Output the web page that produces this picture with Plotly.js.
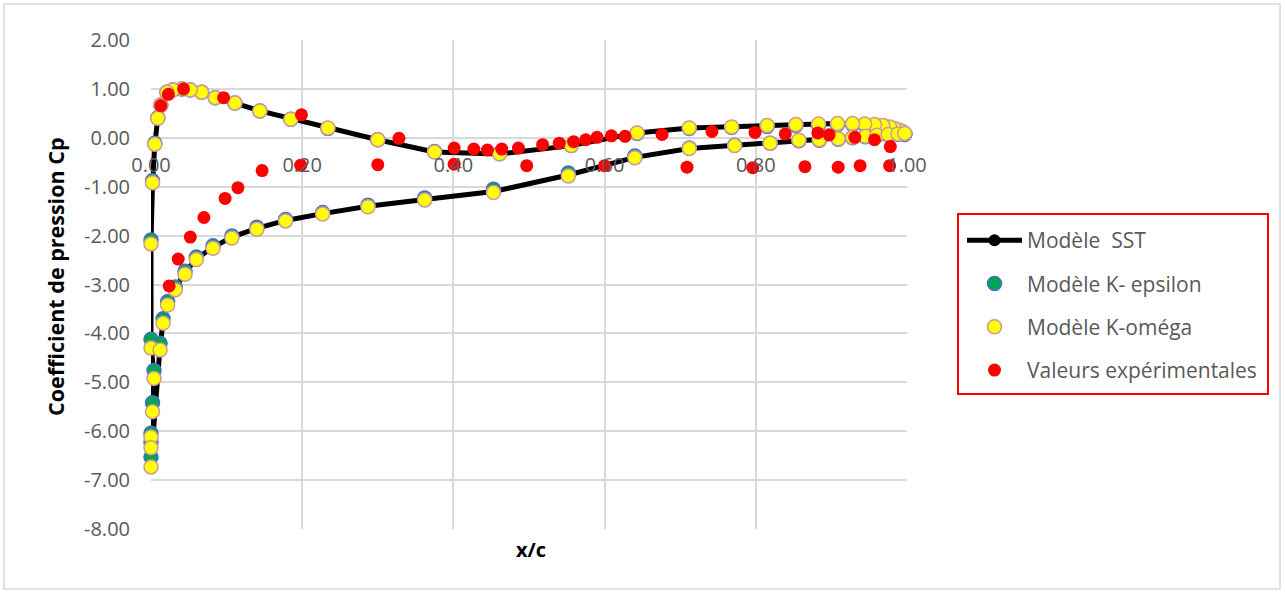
<!DOCTYPE html>
<html>
<head>
<meta charset="utf-8">
<script src="https://cdn.plot.ly/plotly-3.0.1.min.js"></script>
<style>html,body{margin:0;padding:0;background:#fff;}#chart{width:1285px;height:593px;}</style>
</head>
<body>
<div id="chart"></div>
<script>
// ---- Data ----
// Model curves: closed loop, from trailing edge along upper (Cp>0) branch to leading edge, then lower branch back.
var xModel = [0.997,0.994,0.989,0.983,0.977,0.968,0.957,0.944,0.928,0.908,0.883,0.853,0.815,0.768,0.712,0.643,0.556,0.461,0.375,0.300,0.234,0.185,0.144,0.111,0.085,0.067,0.052,0.041,0.029,0.021,0.013,0.009,0.005,0.002,0.000,0.000,0.004,0.002,0.000,0.000,0.000,
              0.012,0.016,0.022,0.032,0.045,0.060,0.082,0.107,0.140,0.178,0.227,0.287,0.362,0.453,0.552,0.640,0.712,0.772,0.819,0.857,0.884,0.909,0.928,0.945,0.960,0.975,0.988,0.997];
var cpSST = [0.09,0.13,0.16,0.19,0.22,0.25,0.27,0.28,0.29,0.29,0.28,0.27,0.25,0.22,0.20,0.10,-0.16,-0.33,-0.29,-0.04,0.20,0.38,0.55,0.71,0.82,0.93,0.98,1.00,0.98,0.93,0.67,0.40,-0.13,-0.92,-2.14,-4.25,-4.86,-5.52,-6.08,-6.30,-6.62,
             -4.28,-3.75,-3.39,-3.08,-2.76,-2.47,-2.24,-2.03,-1.85,-1.69,-1.55,-1.40,-1.26,-1.10,-0.76,-0.40,-0.22,-0.16,-0.11,-0.05,-0.04,-0.02,0.01,0.03,0.05,0.07,0.08,0.09];
var cpKEpsilon = [0.07,0.11,0.14,0.17,0.20,0.23,0.25,0.26,0.27,0.27,0.26,0.25,0.23,0.21,0.19,0.09,-0.16,-0.32,-0.28,-0.04,0.19,0.38,0.55,0.71,0.82,0.93,0.98,1.00,0.98,0.93,0.67,0.41,-0.11,-0.88,-2.09,-4.12,-4.76,-5.42,-6.04,-6.22,-6.53,
                  -4.20,-3.70,-3.35,-3.05,-2.73,-2.44,-2.21,-2.01,-1.83,-1.67,-1.53,-1.38,-1.23,-1.05,-0.72,-0.37,-0.21,-0.15,-0.11,-0.06,-0.05,-0.03,0.00,0.02,0.04,0.06,0.07,0.07];
var cpKOmega = [0.09,0.13,0.16,0.19,0.22,0.25,0.27,0.28,0.29,0.29,0.28,0.27,0.25,0.22,0.20,0.10,-0.16,-0.33,-0.29,-0.04,0.20,0.38,0.55,0.71,0.82,0.93,0.98,1.00,0.98,0.93,0.67,0.40,-0.13,-0.92,-2.17,-4.30,-4.92,-5.60,-6.12,-6.34,-6.73,
                -4.34,-3.79,-3.42,-3.11,-2.79,-2.49,-2.26,-2.05,-1.87,-1.70,-1.56,-1.41,-1.27,-1.12,-0.78,-0.41,-0.22,-0.16,-0.11,-0.05,-0.04,-0.02,0.01,0.03,0.05,0.07,0.08,0.09];
// Experimental values: upper and lower surfaces
var xExpUpper = [0.013,0.023,0.043,0.096,0.199,0.328,0.401,0.427,0.445,0.464,0.486,0.518,0.540,0.559,0.575,0.590,0.609,0.627,0.676,0.742,0.799,0.839,0.882,0.897,0.931,0.957,0.978];
var cpExpUpper = [0.66,0.89,1.00,0.82,0.47,-0.01,-0.21,-0.23,-0.25,-0.23,-0.21,-0.14,-0.11,-0.08,-0.04,0.01,0.04,0.03,0.07,0.13,0.11,0.08,0.10,0.06,0.01,-0.04,-0.18];
var xExpLower = [0.024,0.036,0.052,0.070,0.098,0.115,0.147,0.198,0.300,0.401,0.497,0.600,0.709,0.796,0.865,0.909,0.938,0.977];
var cpExpLower = [-3.03,-2.48,-2.03,-1.63,-1.24,-1.02,-0.67,-0.56,-0.55,-0.54,-0.57,-0.57,-0.60,-0.61,-0.59,-0.60,-0.57,-0.57];
// Tick labels
var xTickVals = [0,0.2,0.4,0.6,0.8,1.0];
var xTickText = ["0.00","0.20","0.40","0.60","0.80","1.00"];
var yTickVals = [-8,-7,-6,-5,-4,-3,-2,-1,0,1,2];
var yTickText = ["-8.00","-7.00","-6.00","-5.00","-4.00","-3.00","-2.00","-1.00","0.00","1.00","2.00"];
var seriesNames = ["Modèle  SST","Modèle K- epsilon","Modèle K-oméga","Valeurs expérimentales"];

// ---- Geometry helpers (pixel -> paper) ----
var L=151, R=907, T=40, B=529, W=R-L, H=B-T;
function px(x){return (x-L)/W;}
function py(y){return (B-y)/H;}

var FONT = "Open Sans, sans-serif";
var traces = [
  {x:xModel, y:cpSST, name:seriesNames[0], legendgroup:"a", type:"scatter", mode:"lines+markers", cliponaxis:false,
   line:{color:"#000000", width:5}, marker:{color:"#000000", size:12}},
  {x:xModel, y:cpKEpsilon, name:seriesNames[1], legendgroup:"b", type:"scatter", mode:"markers", cliponaxis:false,
   marker:{color:"#00A550", size:14, line:{color:"#4472C4", width:1.5}}},
  {x:xModel, y:cpKOmega, name:seriesNames[2], legendgroup:"c", type:"scatter", mode:"markers", cliponaxis:false,
   marker:{color:"#FFFF00", size:14, line:{color:"#CC9A9A", width:1.5}}},
  {x:xExpUpper.concat(xExpLower), y:cpExpUpper.concat(cpExpLower), name:seriesNames[3], legendgroup:"d", type:"scatter", mode:"markers", cliponaxis:false,
   marker:{color:"#FF0000", size:13}}
];

var layout = {
  width:1285, height:593,
  margin:{l:L, r:1285-R, t:T, b:593-B, pad:0},
  paper_bgcolor:"#ffffff", plot_bgcolor:"#ffffff",
  font:{family:FONT, size:20, color:"#595959"},
  showlegend:true,
  xaxis:{range:[0,1], tickvals:xTickVals, ticktext:xTickText, anchor:"free", position:0.8,
         showgrid:true, gridcolor:"#D9D9D9", gridwidth:2, zeroline:false, showline:false, ticks:"",
         ticklabelstandoff:13, tickfont:{family:FONT, size:20, color:"#595959"}, fixedrange:true},
  yaxis:{range:[-8,2], tickvals:yTickVals, ticktext:yTickText, domain:[0,1],
         showgrid:true, gridcolor:"#D9D9D9", gridwidth:2, zeroline:false, showline:false, ticks:"",
         ticklabelstandoff:20, tickfont:{family:FONT, size:20, color:"#595959"}, fixedrange:true},
  legend:{x:px(962), y:py(220), xanchor:"left", yanchor:"top", bgcolor:"rgba(0,0,0,0)", borderwidth:0,
          font:{family:FONT, size:21, color:"#595959"}, itemwidth:55, tracegroupgap:13, traceorder:"grouped"},
  shapes:[
    {type:"rect", xref:"paper", yref:"paper", x0:px(958), x1:px(1268), y0:py(394), y1:py(214), line:{color:"#FF0000", width:2}},
    {type:"rect", xref:"paper", yref:"paper", x0:px(4), x1:px(1280), y0:py(589), y1:py(4), line:{color:"#D9D9D9", width:1.5}, layer:"below"}
  ],
  annotations:[
    {text:"<b>x/c</b>", xref:"paper", yref:"paper", x:px(531), y:py(549), showarrow:false, xanchor:"center", yanchor:"middle",
     font:{family:FONT, size:20, color:"#000000"}},
    {text:"<b>Coefficient de pression Cp</b>", xref:"paper", yref:"paper", x:px(55), y:py(277), showarrow:false, textangle:-90,
     xanchor:"center", yanchor:"middle", font:{family:FONT, size:21.5, color:"#000000"}}
  ]
};
Plotly.newPlot("chart", traces, layout, {displayModeBar:false, staticPlot:true});
</script>
</body>
</html>
